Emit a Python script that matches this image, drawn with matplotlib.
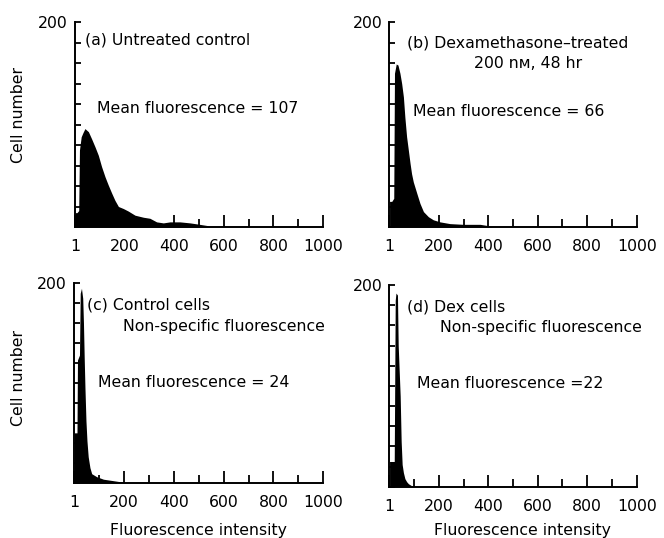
import matplotlib
matplotlib.use("Agg")
import matplotlib.pyplot as plt

plt.rcParams['font.family'] = ['DejaVu Sans']

# histogram outlines (fluorescence channel, cell count)
a_x = [1, 8, 15, 18, 25, 32, 40, 54, 67, 81, 94, 107, 121, 134, 148, 161, 175,
       195, 215, 242, 276, 302, 329, 356, 383, 423, 464, 492, 531, 545]
a_y = [14, 14, 16, 75, 88, 92, 96, 93, 86, 78, 70, 59, 49, 41, 33, 26, 20,
       18, 15.5, 11.5, 9.5, 8.5, 5, 4, 5, 5, 4, 3, 1.5, 0]

b_x = [1, 10, 18, 21, 28, 35, 43, 50, 57, 63, 70, 77, 84, 90, 97, 111, 124,
       138, 158, 178, 205, 245, 299, 367, 395, 419]
b_y = [25, 25, 28, 150, 159, 158, 150, 140, 127, 107, 88, 75, 62, 52, 44, 33,
       23, 15, 10, 7, 5, 3.3, 2.6, 2.6, 1.5, 0]

c_x = [1, 12, 14, 22, 25, 30, 35, 38, 41, 44, 48, 52, 57, 64, 71, 91, 118, 158, 211]
c_y = [50, 50, 123, 128, 190, 195, 185, 160, 125, 95, 62, 42, 26, 15, 9, 6, 3.5, 2, 0]

d_x = [1, 20, 24, 27, 33, 36, 40, 44, 48, 52, 57, 63, 70, 77, 90, 100]
d_y = [25, 25, 185, 192, 190, 140, 115, 90, 45, 22, 14, 8, 5, 3, 1, 0]

x_major = [0, 200, 400, 600, 800, 1000]
x_major_labels = ['1', '200', '400', '600', '800', '1000']
x_minor = [100, 300, 500, 700, 900]
y_ticks = [0, 20, 40, 60, 80, 100, 120, 140, 160, 180, 200]
y_tick_labels = [''] * 10 + ['200']

FS = 11.3
W, H = 664, 538
fig = plt.figure(figsize=(W / 100, H / 100), dpi=100)


def px_axes(x0, x1, ytop, ybot):
    return fig.add_axes([x0 / W, 1 - ybot / H, (x1 - x0) / W, (ybot - ytop) / H])


panels = [
    (px_axes(75, 323, 22, 227), a_x, a_y,
     [("(a) Untreated control", 0.04, 0.912, 'left'),
      ("Mean fluorescence = 107", 0.089, 0.58, 'left')]),
    (px_axes(389.3, 636.7, 22, 227), b_x, b_y,
     [("(b) Dexamethasone\u2013treated", 0.072, 0.898, 'left'),
      ("200 n\u1d0d, 48 hr", 0.559, 0.80, 'center'),
      ("Mean fluorescence = 66", 0.096, 0.561, 'left')]),
    (px_axes(74, 323.3, 283.3, 482.7), c_x, c_y,
     [("(c) Control cells", 0.052, 0.891, 'left'),
      ("Non-specific fluorescence", 0.197, 0.781, 'left'),
      ("Mean fluorescence = 24", 0.096, 0.505, 'left')]),
    (px_axes(389.3, 636.7, 285, 486.7), d_x, d_y,
     [("(d) Dex cells", 0.072, 0.891, 'left'),
      ("Non-specific fluorescence", 0.205, 0.787, 'left'),
      ("Mean fluorescence =22", 0.112, 0.514, 'left')]),
]

for ax, xs, ys, texts in panels:
    ax.fill_between(xs, ys, 0, color='black', linewidth=0, zorder=1)
    ax.set_xlim(0, 1000)
    ax.set_ylim(0, 200)
    for s in ['top', 'right']:
        ax.spines[s].set_visible(False)
    for s in ['left', 'bottom']:
        ax.spines[s].set_linewidth(1.4)
        ax.spines[s].set_zorder(3)
    ax.set_xticks(x_major)
    ax.set_xticklabels(x_major_labels)
    ax.set_xticks(x_minor, minor=True)
    ax.set_yticks(y_ticks)
    ax.set_yticklabels(y_tick_labels)
    ax.tick_params(axis='x', which='major', direction='in', length=8.5, width=1.3,
                   pad=8.5, labelsize=FS)
    ax.tick_params(axis='x', which='minor', direction='in', length=5.5, width=1.3)
    ax.tick_params(axis='y', direction='in', length=4.5, width=1.3, pad=5,
                   labelsize=FS)
    for t, x, y, ha in texts:
        ax.text(x, y, t, transform=ax.transAxes, ha=ha, va='center', fontsize=FS)

fig.text(19 / W, 1 - 115 / H, "Cell number", rotation=90, ha='center', va='center',
         fontsize=FS)
fig.text(19 / W, 1 - 378 / H, "Cell number", rotation=90, ha='center', va='center',
         fontsize=FS)
fig.text(199 / W, 1 - 530 / H, "Fluorescence intensity", ha='center', va='center',
         fontsize=FS)
fig.text(523 / W, 1 - 530 / H, "Fluorescence intensity", ha='center', va='center',
         fontsize=FS)

fig.savefig("out.png", dpi=100)
